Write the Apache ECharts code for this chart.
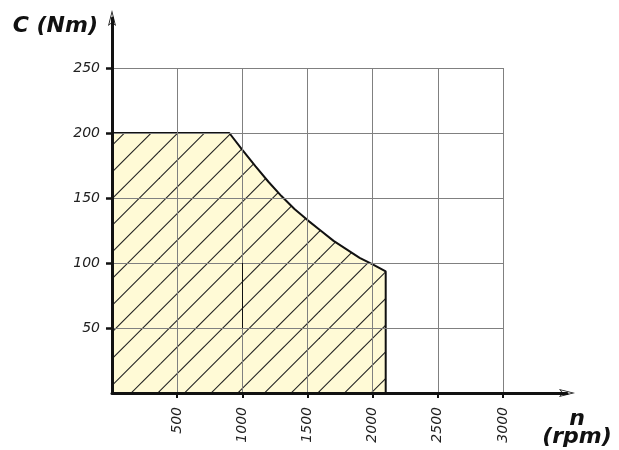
<!DOCTYPE html>
<html><head><meta charset="utf-8">
<script src="https://cdn.jsdelivr.net/npm/echarts@6/dist/echarts.min.js"></script>
<style>html,body{margin:0;padding:0;background:#fff}#c{width:619px;height:450px}</style>
</head><body><div id="c"></div>
<script>
// Data
const speedRpm  = [0, 900, 1000, 1100, 1200, 1300, 1400, 1500, 1600, 1700, 1800, 1900, 2000, 2100, 2100];
const torqueNm  = [200, 200, 187, 174.5, 162.5, 151.5, 141.5, 133, 125, 117, 110.5, 104, 99, 93.5, 0];
const xTickLabels = [500, 1000, 1500, 2000, 2500, 3000];
const yTickLabels = [50, 100, 150, 200, 250];

const FONT = "'DejaVu Sans', sans-serif";

function hatchPattern() {
  const s = 80, c = document.createElement('canvas');
  c.width = s; c.height = s;
  const g = c.getContext('2d');
  g.fillStyle = '#fffad6';
  g.fillRect(0, 0, s, s);
  g.strokeStyle = '#222222';
  g.lineWidth = 1.1;
  const step = s / 3, off = 17.5;
  for (let k = -4; k <= 10; k++) {
    const cc = off + k * step;
    g.beginPath();
    g.moveTo(cc + 10, -10);
    g.lineTo(cc - 90, 90);
    g.stroke();
  }
  return c;
}

const arrow = 'path://M0,0 L4,16 L0,13 L-4,16 Z M0,3.2 L-2.7,14.2 L0,11.9 L2.7,14.2 Z';
const plain = v => String(v);

const chart = echarts.init(document.getElementById('c'), null, {renderer: 'canvas'});
chart.setOption({
  animation: false,
  backgroundColor: '#ffffff',
  grid: [
    {left: 112, top: 68, right: 116, bottom: 57, outerBoundsMode: 'none', containLabel: false},
    {left: 112, top: 18, right: 52, bottom: 57, outerBoundsMode: 'none', containLabel: false}
  ],
  xAxis: [
    {
      gridIndex: 0, type: 'value', min: 0, max: xTickLabels[xTickLabels.length - 1], interval: xTickLabels[0],
      z: 3,
      axisLine: {show: false},
      axisTick: {show: true, length: 5, lineStyle: {color: '#111', width: 2}},
      axisLabel: {
        rotate: 90, margin: 14, showMinLabel: false, formatter: plain,
        fontFamily: FONT, fontStyle: 'italic', fontSize: 14, color: '#222'
      },
      splitLine: {show: true, lineStyle: {color: '#808080', width: 1}}
    },
    {
      gridIndex: 1, type: 'value', min: 0, max: 1, z: 5,
      axisLine: {show: true, symbol: ['none', arrow], symbolSize: [8, 16], lineStyle: {color: '#111', width: 3}},
      axisTick: {show: false}, axisLabel: {show: false}, splitLine: {show: false},
      name: 'n\n(rpm)', nameLocation: 'end', nameGap: 10,
      nameTextStyle: {fontFamily: FONT, fontWeight: 'bold', fontStyle: 'italic', fontSize: 22, color: '#111',
        align: 'center', verticalAlign: 'top', lineHeight: 18, padding: [17, 0, 0, 0]}
    }
  ],
  yAxis: [
    {
      gridIndex: 0, type: 'value', min: 0, max: yTickLabels[yTickLabels.length - 1], interval: yTickLabels[0],
      z: 3,
      axisLine: {show: false},
      axisTick: {show: true, length: 6, lineStyle: {color: '#111', width: 2.5}},
      axisLabel: {
        margin: 12, showMinLabel: false, formatter: plain,
        fontFamily: FONT, fontStyle: 'italic', fontSize: 14, color: '#222'
      },
      splitLine: {show: true, lineStyle: {color: '#808080', width: 1}}
    },
    {
      gridIndex: 1, type: 'value', min: 0, max: 1, z: 5,
      axisLine: {show: true, symbol: ['none', arrow], symbolSize: [8, 16], lineStyle: {color: '#111', width: 3}},
      axisTick: {show: false}, axisLabel: {show: false}, splitLine: {show: false},
      name: 'C (Nm)', nameLocation: 'end', nameGap: -8,
      nameTextStyle: {fontFamily: FONT, fontWeight: 'bold', fontStyle: 'italic', fontSize: 22, color: '#111',
        align: 'right', verticalAlign: 'middle', padding: [0, 14, 0, 0]}
    }
  ],
  series: [
    {
      type: 'line', xAxisIndex: 0, yAxisIndex: 0, z: 2,
      data: speedRpm.map((x, i) => [x, torqueNm[i]]),
      showSymbol: false, symbol: 'none',
      lineStyle: {color: '#111', width: 2},
      areaStyle: {color: {image: hatchPattern(), repeat: 'repeat'}, opacity: 1, origin: 'start'},
      markLine: {
        silent: true, symbol: 'none', label: {show: false},
        lineStyle: {color: '#111', width: 1, type: 'solid'},
        data: [[{coord: [1000, 50]}, {coord: [1000, 100]}]]
      }
    }
  ]
});
</script></body></html>
